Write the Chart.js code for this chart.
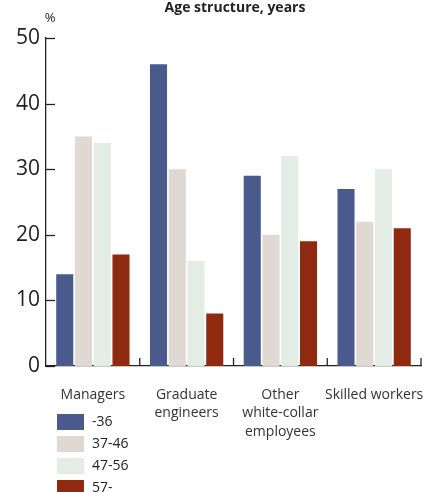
<!DOCTYPE html>
<html><head><meta charset="utf-8">
<script src="https://cdn.jsdelivr.net/npm/chart.js@4"></script>
<style>html,body{margin:0;padding:0;background:#fff}#wrap{width:424px;height:492px;position:relative}</style>
</head><body><div id="wrap"><canvas id="c" width="424" height="492"></canvas></div>
<script>
const categories = [["Managers"], ["Graduate", "engineers"], ["Other", "white-collar", "employees"], ["Skilled workers"]];
const seriesNames = ["-36", "37-46", "47-56", "57-"];
const s36 = [14, 46, 29, 27];
const s3746 = [35, 30, 20, 22];
const s4756 = [34, 16, 32, 30];
const s57 = [17, 8, 19, 21];
const yTicks = [0, 10, 20, 30, 40, 50];
const colors = ["#4a5a8c", "#e0d8d3", "#e3ece5", "#8f2a10"];
const FONT = "'Open Sans', 'Noto Sans', sans-serif";
const TEXT = "#222";

const decor = {
  id: 'decor',
  afterDraw(chart) {
    const ctx = chart.ctx, x = chart.scales.x, y = chart.scales.y, a = chart.chartArea;
    ctx.save();
    ctx.strokeStyle = TEXT; ctx.lineWidth = 1.3;
    yTicks.forEach(v => {
      const py = Math.round(y.getPixelForValue(v)) + 0.5;
      ctx.beginPath(); ctx.moveTo(a.left, py); ctx.lineTo(a.left + 9, py); ctx.stroke();
    });
    const n = categories.length;
    const step = x.getPixelForValue(1) - x.getPixelForValue(0);
    for (let i = 1; i <= n; i++) {
      const px = x.getPixelForValue(i - 1) + step / 2;
      ctx.beginPath(); ctx.moveTo(px, a.bottom); ctx.lineTo(px, a.bottom - 8); ctx.stroke();
    }
    ctx.fillStyle = TEXT;
    ctx.textAlign = 'center'; ctx.textBaseline = 'middle';
    ctx.font = "bold 14px " + FONT;
    ctx.fillText("Age structure, years", 235, 8);
    ctx.font = "13px " + FONT;
    ctx.fillText("%", 50, 18);
    ctx.textAlign = 'left';
    ctx.font = "14px " + FONT;
    chart.data.datasets.forEach((ds, i) => {
      const top = 414 + i * 22;
      ctx.fillStyle = ds.backgroundColor;
      ctx.fillRect(57, top, 27, 16);
      ctx.fillStyle = TEXT;
      ctx.fillText(ds.label, 92, top + 8.5);
    });
    ctx.restore();
  }
};

new Chart(document.getElementById('c'), {
  type: 'bar',
  data: {
    labels: categories,
    datasets: [
      { label: seriesNames[0], data: s36, backgroundColor: colors[0] },
      { label: seriesNames[1], data: s3746, backgroundColor: colors[1] },
      { label: seriesNames[2], data: s4756, backgroundColor: colors[2] },
      { label: seriesNames[3], data: s57, backgroundColor: colors[3] }
    ]
  },
  options: {
    responsive: false, animation: false,
    devicePixelRatio: 1,
    layout: { padding: { top: 38, right: 3, left: 0, bottom: 0 } },
    datasets: { bar: { categoryPercentage: 0.8, barPercentage: 0.91 } },
    plugins: { legend: { display: false }, tooltip: { enabled: false } },
    scales: {
      x: {
        grid: { display: false, drawTicks: false },
        border: { display: true, color: TEXT, width: 1.3 },
        ticks: { color: "#333", font: { family: FONT, size: 14, lineHeight: 1.31 }, padding: 20, maxRotation: 0, autoSkip: false },
        afterFit(s) { s.height = 126; s.paddingLeft = 0; s.paddingRight = 0; }
      },
      y: {
        min: 0, max: 50,
        afterBuildTicks(s) { s.ticks = yTicks.map(v => ({ value: v })); },
        grid: { display: false, drawTicks: false },
        border: { display: true, color: TEXT, width: 1.3 },
        ticks: { color: TEXT, font: { family: FONT, size: 21 }, padding: 6 },
        afterFit(s) { s.width = 46; s.paddingTop = 0; s.paddingBottom = 0; }
      }
    }
  },
  plugins: [decor]
});
</script></body></html>
